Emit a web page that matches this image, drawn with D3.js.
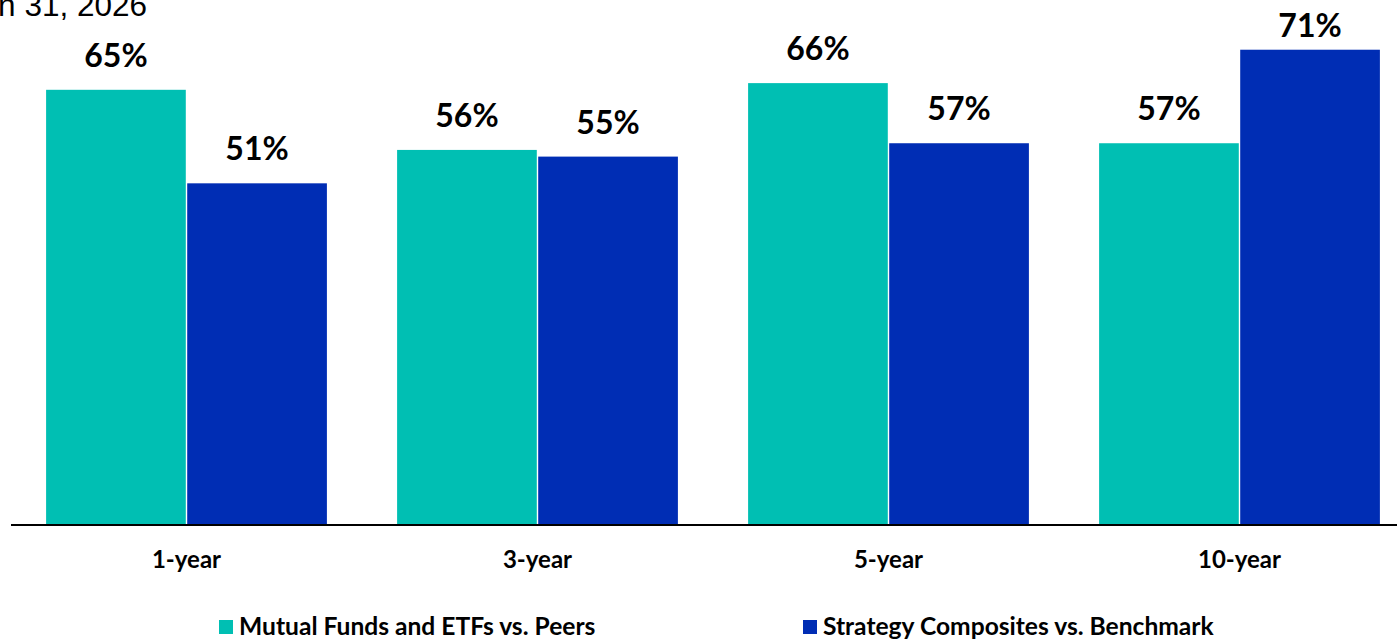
<!DOCTYPE html>
<html>
<head>
<meta charset="utf-8">
<script src="https://cdn.jsdelivr.net/npm/d3@7"></script>
<style>
  body { margin: 0; background: #fff; overflow: hidden; }
  svg { display: block; }
  .lbl { font-family: Lato, "Open Sans", sans-serif; font-weight: bold; fill: #000; }
</style>
</head>
<body>
<svg id="chart" width="1397" height="640"></svg>
<script>
/* chart data */
var periods = ["1-year", "3-year", "5-year", "10-year"];
var seriesNames = ["Mutual Funds and ETFs vs. Peers", "Strategy Composites vs. Benchmark"];
var fundsVsPeers = [65, 56, 66, 57];
var compositesVsBench = [51, 55, 57, 71];
var colors = ["#00BFB3", "#002DB4"];

var svg = d3.select("#chart");

// group + bar scales
let x0 = d3.scaleBand()
    .domain(periods)
    .range([11, 1415])
    .paddingInner(0.2)
    .paddingOuter(0.1);

let x1 = d3.scaleBand()
    .domain(seriesNames)
    .range([0, x0.bandwidth()])
    .paddingInner(0.01);

let y = d3.scaleLinear()
    .domain([0, 75])
    .range([524, 23]);

let color = d3.scaleOrdinal().domain(seriesNames).range(colors);

// title fragment (cut off on the left in the original)
svg.append("text")
    .attr("x", 147)
    .attr("y", 16)
    .attr("text-anchor", "end")
    .style("font-family", "'Liberation Sans', Arial, sans-serif")
    .style("font-size", "31.5px")
    .attr("fill", "#000")
    .text("Jan 31, 2026");

let rows = periods.map(function(p, i) {
    return {period: p, values: [fundsVsPeers[i], compositesVsBench[i]]};
});

let groups = svg.selectAll("g.grp")
    .data(rows)
    .enter().append("g")
    .attr("class", "grp")
    .attr("transform", function(d) { return "translate(" + x0(d.period) + ",0)"; });

let bars = groups.selectAll("g.bar")
    .data(function(d) {
        return d.values.map(function(v, j) { return {key: seriesNames[j], value: v}; });
    })
    .enter().append("g")
    .attr("class", "bar");

bars.append("rect")
    .attr("x", function(d) { return x1(d.key); })
    .attr("y", function(d) { return y(d.value); })
    .attr("width", x1.bandwidth())
    .attr("height", function(d) { return y(0) - y(d.value); })
    .attr("fill", function(d) { return color(d.key); });

// labels sit above the bar, but never closer than 37px to the top edge
bars.append("text")
    .attr("class", "lbl")
    .attr("x", function(d) { return x1(d.key) + x1.bandwidth() / 2; })
    .attr("y", function(d) { return Math.max(y(d.value) - 23, 37); })
    .attr("text-anchor", "middle")
    .style("font-size", "32px")
    .text(function(d) { return d.value + "%"; });

// x axis
let xAxis = d3.axisBottom(x0).tickSize(0).tickPadding(0);
let axisG = svg.append("g")
    .attr("transform", "translate(0," + y(0) + ")")
    .call(xAxis);
axisG.select(".domain").remove();
axisG.selectAll("text")
    .attr("class", "lbl")
    .attr("fill", "#000")
    .attr("dy", null)
    .attr("y", 44)
    .style("font-size", "24px");
svg.append("line")
    .attr("x1", 11).attr("x2", 1397)
    .attr("y1", y(0) + 1).attr("y2", y(0) + 1)
    .attr("stroke", "#000")
    .attr("stroke-width", 2);

// legend
let legendX = [219, 803];
let legend = svg.selectAll("g.leg")
    .data(seriesNames)
    .enter().append("g")
    .attr("class", "leg")
    .attr("transform", function(d, i) { return "translate(" + legendX[i] + ",620)"; });
legend.append("rect")
    .attr("width", 14).attr("height", 14)
    .attr("fill", function(d) { return color(d); });
legend.append("text")
    .attr("class", "lbl")
    .attr("x", 20)
    .attr("y", 15)
    .style("font-size", "24.6px")
    .text(function(d) { return d; });
</script>
</body>
</html>
